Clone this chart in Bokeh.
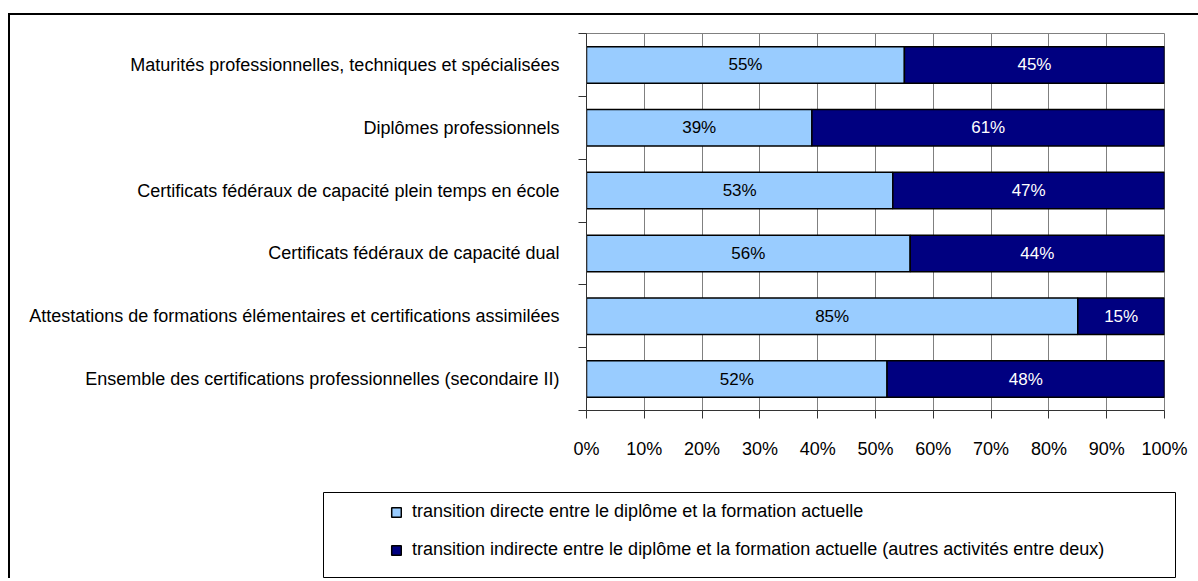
from bokeh.plotting import figure
from bokeh.models import FixedTicker, Legend, LegendItem, ColumnDataSource, Spacer
from bokeh.layouts import column, row
from bokeh.core.properties import value
from bokeh.embed import file_html
from bokeh.resources import INLINE

categories = [
    "Maturités professionnelles, techniques et spécialisées",
    "Diplômes professionnels",
    "Certificats fédéraux de capacité plein temps en école",
    "Certificats fédéraux de capacité dual",
    "Attestations de formations élémentaires et certifications assimilées",
    "Ensemble des certifications professionnelles (secondaire II)",
]
direct = [55, 39, 53, 56, 85, 52]
indirect = [45, 61, 47, 44, 15, 48]
series_names = [
    "transition directe entre le diplôme et la formation actuelle",
    "transition indirecte entre le diplôme et la formation actuelle (autres activités entre deux)",
]
x_ticks = [0, 10, 20, 30, 40, 50, 60, 70, 80, 90, 100]

FONT = "Liberation Sans"
LIGHT = "#99CCFF"
DARK = "#000080"

n = len(categories)
ypos = [n - 0.5 - i for i in range(n)]

p = figure(width=1188, height=477, output_backend="svg", toolbar_location=None,
           x_range=(0, 100), y_range=(0, n),
           min_border_left=576, min_border_right=34, min_border_top=18, min_border_bottom=82)
p.outline_line_color = "#808080"
p.outline_line_width = 1

src = ColumnDataSource(dict(
    y=ypos,
    dleft=[0] * n, dright=direct,
    ileft=direct, iright=[d + i for d, i in zip(direct, indirect)],
    dmid=[d / 2 for d in direct],
    imid=[d + i / 2 for d, i in zip(direct, indirect)],
    dtxt=[f"{d}%" for d in direct],
    itxt=[f"{i}%" for i in indirect],
))

p.hbar(y="y", left="dleft", right="dright", height=0.58, source=src,
       fill_color=LIGHT, line_color="black", line_width=1.5)
p.hbar(y="y", left="ileft", right="iright", height=0.58, source=src,
       fill_color=DARK, line_color="black", line_width=1.5)

p.text(x="dmid", y="y", text="dtxt", source=src, text_align="center", text_baseline="middle",
       text_font=value(FONT), text_font_size="17px", text_color="black")
p.text(x="imid", y="y", text="itxt", source=src, text_align="center", text_baseline="middle",
       text_font=value(FONT), text_font_size="17px", text_color="white")

# x axis
p.xaxis.ticker = FixedTicker(ticks=x_ticks)
p.xaxis.major_label_overrides = {t: f"{t}%" for t in x_ticks}
p.xaxis.major_label_text_font = FONT
p.xaxis.major_label_text_font_size = "18px"
p.xaxis.major_label_text_color = "black"
p.xaxis.major_label_standoff = 20
p.xaxis.major_tick_out = 8
p.xaxis.major_tick_in = 0
p.xaxis.minor_tick_line_color = None
p.xaxis.axis_line_color = "#333333"
p.xaxis.major_tick_line_color = "#333333"

# y axis
p.yaxis.ticker = FixedTicker(ticks=ypos, minor_ticks=list(range(n + 1)))
p.yaxis.major_label_overrides = {y: c for y, c in zip(ypos, categories)}
p.yaxis.major_label_text_font = FONT
p.yaxis.major_label_text_font_size = "18px"
p.yaxis.major_label_text_color = "black"
p.yaxis.major_label_standoff = 19
p.yaxis.major_tick_line_color = None
p.yaxis.major_tick_out = 0
p.yaxis.major_tick_in = 0
p.yaxis.minor_tick_out = 8
p.yaxis.minor_tick_in = 0
p.yaxis.minor_tick_line_color = "#333333"
p.yaxis.axis_line_color = "#333333"

p.xgrid.ticker = FixedTicker(ticks=x_ticks)
p.xgrid.grid_line_color = "#808080"
p.xgrid.grid_line_width = 1
p.ygrid.grid_line_color = None

# legend panel (its frame is the legend box)
f2 = figure(width=853, height=86, output_backend="svg", toolbar_location=None,
            x_axis_type=None, y_axis_type=None, x_range=(0, 1), y_range=(0, 1),
            min_border_left=0, min_border_right=0, min_border_top=0, min_border_bottom=0)
f2.outline_line_color = "black"
f2.outline_line_width = 1
f2.xgrid.grid_line_color = None
f2.ygrid.grid_line_color = None
# swatch renderers kept outside the visible range; only their legend glyphs show
swatch = ColumnDataSource(dict(y=[-10], left=[-10], right=[-9]))
l1 = f2.hbar(y="y", left="left", right="right", height=0.5, source=swatch,
             fill_color=LIGHT, line_color="black", line_width=1.5)
l2 = f2.hbar(y="y", left="left", right="right", height=0.5, source=swatch,
             fill_color=DARK, line_color="black", line_width=1.5)
legend = Legend(items=[LegendItem(label=series_names[0], renderers=[l1]),
                       LegendItem(label=series_names[1], renderers=[l2])],
                location=(67, 18), padding=0, spacing=17,
                glyph_width=12, glyph_height=12, label_standoff=10, label_height=20,
                label_text_font=FONT, label_text_font_size="18px", label_text_color="black",
                border_line_color=None, background_fill_alpha=0)
f2.add_layout(legend)

inner = column(p, row(Spacer(width=313, height=86), f2),
               styles={"border-left": "2px solid black", "border-top": "2px solid black"})
layout = column(Spacer(width=1190, height=13), row(Spacer(width=8, height=563), inner))

open("out.html", "w").write(file_html(layout, INLINE))
